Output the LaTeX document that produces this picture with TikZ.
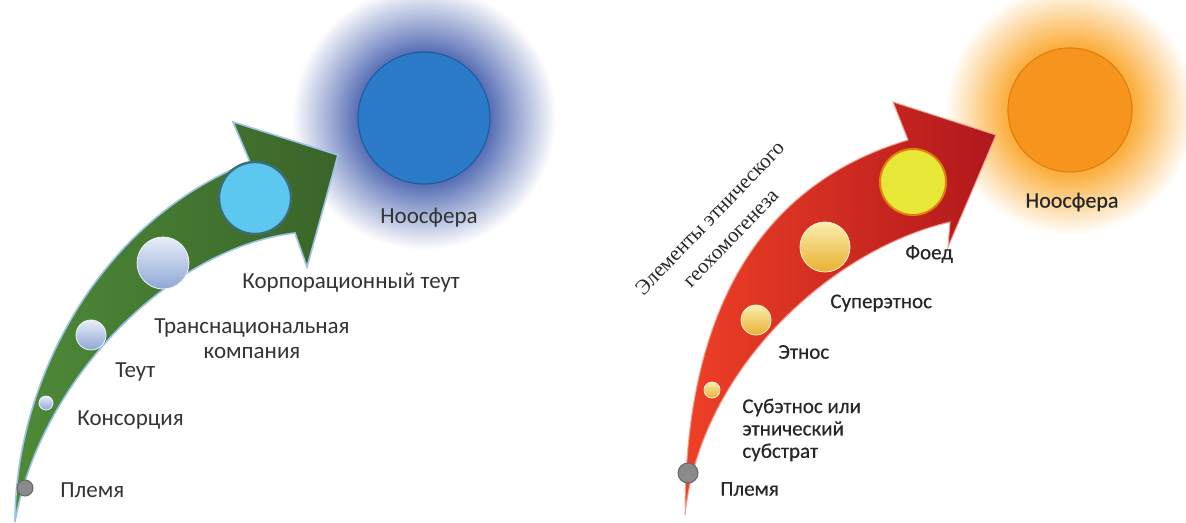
\documentclass[tikz,border=0pt]{standalone}
\usepackage{fontspec}
\setmainfont{Carlito}
\newfontfamily\slantserif{Liberation Serif}
\newfontfamily\heavysans[FakeBold=0.4]{Carlito}
\usetikzlibrary{positioning,calc}

\definecolor{leafgreen}{HTML}{4E8A38}
\definecolor{deepgreen}{HTML}{3A6429}
\definecolor{rimblue}{HTML}{9DC3E6}
\definecolor{haloblue}{HTML}{5068B2}
\definecolor{noosblue}{HTML}{2B7BC8}
\definecolor{noosrim}{HTML}{1F5E9E}
\definecolor{pearl}{HTML}{E8EEF8}
\definecolor{pearlblue}{HTML}{8FA6D6}
\definecolor{skycyan}{HTML}{5CC8F0}
\definecolor{tealrim}{HTML}{3A6E74}
\definecolor{firered}{HTML}{EE4026}
\definecolor{midred}{HTML}{E3291F}
\definecolor{darkred}{HTML}{B0171C}
\definecolor{rimred}{HTML}{F4A090}
\definecolor{haloorange}{HTML}{FBB040}
\definecolor{noosorange}{HTML}{F7941D}
\definecolor{orangerim}{HTML}{E07F10}
\definecolor{paleyellow}{HTML}{FBEFB0}
\definecolor{goldyellow}{HTML}{E8B030}
\definecolor{lemon}{HTML}{E8E838}
\definecolor{stonegray}{HTML}{8A8A8A}

\pgfdeclareradialshading{bluehalo}{\pgfpointorigin}{%
  color(0bp)=(haloblue); color(12bp)=(haloblue);
  color(25bp)=(white); color(50bp)=(white)}
\pgfdeclareradialshading{orangehalo}{\pgfpointorigin}{%
  color(0bp)=(haloorange); color(13bp)=(haloorange);
  color(25bp)=(white); color(50bp)=(white)}

\begin{document}
\begin{tikzpicture}[x=0.5pt, y=-0.5pt,
  greenarrow/.style = {draw=rimblue, line width=0.8pt,
                       left color=leafgreen, right color=deepgreen},
  redarrow/.style   = {draw=rimred, line width=0.5pt,
                       left color=firered, middle color=midred,
                       right color=darkred},
  dot/.style        = {circle, inner sep=0pt, draw=white!70!black,
                       line width=0.4pt},
  seed/.style       = {circle, inner sep=0pt, draw=black!60,
                       fill=stonegray, line width=0.5pt},
  pearlball/.style  = {dot, top color=pearl, bottom color=pearlblue,
                       draw=white!85!pearlblue},
  goldball/.style   = {dot, top color=paleyellow, bottom color=goldyellow,
                       draw=white!80!goldyellow},
  stage/.style      = {font=\fontsize{11.5}{12.5}\selectfont,
                       text=black!80, inner sep=0pt, anchor=west},
  ethstage/.style   = {font=\heavysans\fontsize{10.5}{11.2}\selectfont,
                       text=black!85, inner sep=0pt, anchor=west,
                       align=left},
]
\useasboundingbox (0,0) rectangle (1186,523);

%%═══════════════════════════════════════════════════════════
%% LEFT — social forms towards the noosphere
%%═══════════════════════════════════════════════════════════

\shade[shading=bluehalo] (424,118) circle[radius=132];

\path[greenarrow]
  (15,522) .. controls (15,380) and (100,220) .. (250,162)
  -- (233,122) -- (338,155) -- (307,267) -- (295,233)
  .. controls (170,248) and (40,380) .. (15,522) -- cycle;

\node[seed, minimum size=8pt]   (lplema) at (25,488) {};
\node[pearlball, minimum size=7pt]  (lkons) at (46,403) {};
\node[pearlball, minimum size=15pt] (lteut) at (91,335) {};
\node[pearlball, minimum size=26pt] (ltrans) at (163,263) {};
\node[dot, minimum size=36pt, fill=skycyan, draw=tealrim,
      line width=1.2pt] (lkorp) at (255,198) {};
\node[circle, minimum size=66pt, fill=noosblue, draw=noosrim,
      line width=0.6pt] (lnoos) at (424,118) {};

\node[stage] (tplema) at (60,490)  {Племя};
\node[stage] (tkons)  at (77,420)  {Консорция};
\node[stage] (tteut)  at (115,372) {Теут};
\node[stage, anchor=center, align=center] (ttrans) at (252,339)
  {Транснациональная\\компания};
\node[stage] (tkorp)  at (242,283) {Корпорационный теут};
\node[stage, anchor=center] (tnoosl) at (429,218) {Ноосфера};

%%═══════════════════════════════════════════════════════════
%% RIGHT — elements of ethnic geohomogenesis
%%═══════════════════════════════════════════════════════════

\shade[shading=orangehalo] (1070,110) circle[radius=125];

\path[redarrow]
  (685,515) .. controls (685,340) and (740,190) .. (908,140)
  -- (893,102) -- (996,135) -- (948,247) -- (950,222)
  .. controls (830,250) and (700,370) .. (685,515) -- cycle;

\node[seed, minimum size=10pt]   (rplema) at (688,473) {};
\node[goldball, minimum size=8pt]  (rsub)   at (712,390) {};
\node[goldball, minimum size=15pt] (retnos) at (756,320) {};
\node[goldball, minimum size=25pt] (rsuper) at (825,247) {};
\node[dot, minimum size=33pt, fill=lemon, draw=orangerim,
      line width=1pt] (rfoed) at (913,182) {};
\node[circle, minimum size=62pt, fill=noosorange, draw=orangerim,
      line width=0.6pt] (rnoos) at (1070,110) {};

\node[ethstage] (uplema)  at (720,489) {Племя};
\node[ethstage] (usub)    at (742,430) {Субэтнос или\\этнический\\субстрат};
\node[ethstage] (uetnos)  at (778,352) {Этнос};
\node[ethstage] (usuper)  at (830,303) {Суперэтнос};
\node[ethstage] (ufoed)   at (905,254) {Фоед};
\node[ethstage, anchor=center, font=\heavysans\fontsize{11}{12}\selectfont]
  (unoosr) at (1072,202) {Ноосфера};

\node[rotate=46, align=center, text=black!85,
      font=\slantserif\fontsize{10.5}{14.5}\selectfont]
  (ugroup) at (720,228) {Элементы этнического\\геохомогенеза};

\end{tikzpicture}
\end{document}
